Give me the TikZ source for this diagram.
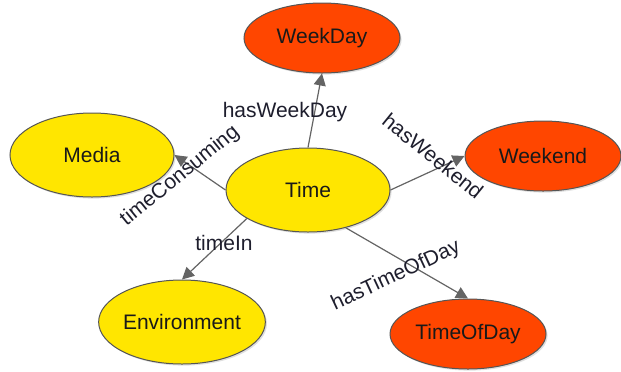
\documentclass[tikz,border=0pt]{standalone}
\usepackage{fontspec}
\setmainfont{Liberation Sans}
\usetikzlibrary{arrows.meta}
\usetikzlibrary{shadows}
\usetikzlibrary{shapes.geometric}

\definecolor{classyellow}{RGB}{255,230,0}
\definecolor{classorange}{RGB}{255,70,0}
\definecolor{bordergray}{RGB}{85,85,85}
\definecolor{edgegray}{RGB}{100,100,100}
\definecolor{labelink}{RGB}{30,30,45}

\tikzset{
    cls/.style={ellipse,draw=bordergray,line width=0.5pt,inner sep=0pt,
        font=\fontsize{10.5}{12}\selectfont,text=black!90,
        drop shadow={opacity=0.25,shadow xshift=0.8pt,shadow yshift=-0.8pt}},
    yellowcls/.style={cls,fill=classyellow,minimum width=82pt,minimum height=42pt},
    orangecls/.style={cls,fill=classorange,minimum width=78pt,minimum height=35pt},
    rel/.style={draw=edgegray,line width=0.6pt,
        -{Triangle[length=6pt,width=6pt,fill=edgegray]}},
    rellabel/.style={inner sep=0pt,font=\fontsize{10.5}{12}\selectfont,text=labelink}
}

\begin{document}
\begin{tikzpicture}[x=0.5pt,y=-0.5pt]
        \useasboundingbox (0,0) rectangle (621,371);

        % Classes
        \node[yellowcls] (time) at (308,190) {Time};
        \node[yellowcls] (media) at (92,155) {Media};
        \node[yellowcls] (environment) at (182,322) {Environment};
        \node[orangecls] (weekday) at (322,38) {WeekDay};
        \node[orangecls] (weekend) at (543,156) {Weekend};
        \node[orangecls] (timeofday) at (468,334) {TimeOfDay};

        % Relations
        \draw[rel] (time.north) -- (weekday.south);
        \draw[rel] (time.west) -- (media.east);
        \draw[rel] (time.east) -- (weekend.west);
        \draw[rel] (time.205) -- (environment.north);
        \draw[rel] (time.-45) -- (timeofday.north);

        % Relation labels
        \node[rellabel] (hasweekday) at (285,112) {hasWeekDay};
        \node[rellabel,rotate=39] (timeconsuming) at (180,176) {timeConsuming};
        \node[rellabel,rotate=-39] (hasweekend) at (433,156) {hasWeekend};
        \node[rellabel] (timein) at (224,243) {timeIn};
        \node[rellabel,rotate=25] (hastimeofday) at (396,276) {hasTimeOfDay};
\end{tikzpicture}
\end{document}
